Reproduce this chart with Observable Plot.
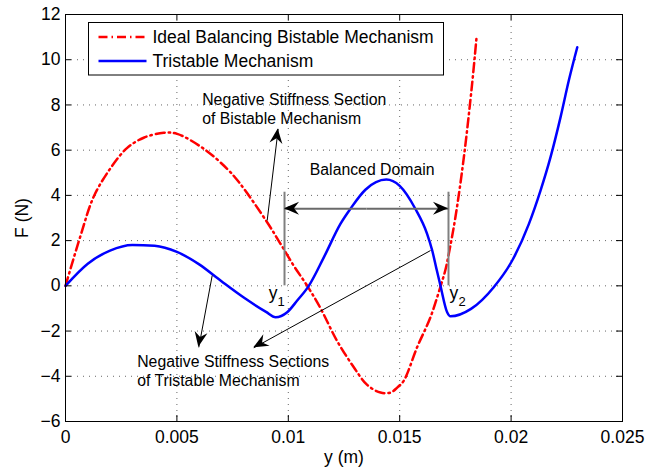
<!DOCTYPE html>
<html><head><meta charset="utf-8">
<script src="https://cdn.jsdelivr.net/npm/d3@7"></script>
<script src="https://cdn.jsdelivr.net/npm/@observablehq/plot@0.6"></script>
<style>
body{margin:0;background:#fff;}
#chart{position:relative;width:657px;height:471px;}
#chart svg{display:block;}
</style>
</head><body><div id="chart"></div>
<script>
// ---- data ----
const seriesNames = ["Ideal Balancing Bistable Mechanism", "Tristable Mechanism"];
const tristableX = [0, 0.001, 0.002, 0.003, 0.004, 0.005, 0.006, 0.007, 0.008, 0.009, 0.00943, 0.00995, 0.0104, 0.01092, 0.0116, 0.01234, 0.01279, 0.01346, 0.0144, 0.0150, 0.0157, 0.01623, 0.01646, 0.01665, 0.01683, 0.01713, 0.01728, 0.0182, 0.01922, 0.02005, 0.0208, 0.02132, 0.02177, 0.02222, 0.02259, 0.02297];
const tristableF = [0, 0.98, 1.56, 1.81, 1.77, 1.5, 0.95, 0.2, -0.52, -1.15, -1.39, -1.17, -0.65, 0, 1.27, 2.74, 3.41, 4.25, 4.7, 4.42, 3.41, 2.3, 1.56, 0.75, 0, -1.17, -1.35, -1.02, -0.06, 1.12, 2.74, 4.21, 5.69, 7.46, 9.08, 10.55];
const bistableX = [0, 0.00067, 0.00127, 0.00202, 0.00277, 0.00351, 0.00441, 0.00501, 0.00621, 0.00726, 0.00785, 0.00905, 0.00965, 0.01025, 0.01085, 0.01144, 0.01218, 0.01294, 0.01354, 0.01414, 0.01459, 0.01489, 0.01518, 0.01578, 0.01638, 0.01683, 0.01705, 0.0172, 0.0175, 0.01788, 0.01825, 0.01845];
const bistableF = [0, 2.2, 3.95, 5.2, 6.1, 6.55, 6.77, 6.72, 6.06, 5.17, 4.5, 2.81, 1.86, 0.88, 0, -0.98, -2.42, -3.6, -4.38, -4.72, -4.72, -4.5, -4.2, -2.72, -1.39, -0.03, 0.7, 1.4, 3.03, 5.69, 8.93, 11.0];
const xTicks = [0, 0.005, 0.01, 0.015, 0.02, 0.025];
const xTickLabels = ["0", "0.005", "0.01", "0.015", "0.02", "0.025"];
const yTicks = [-6, -4, -2, 0, 2, 4, 6, 8, 10, 12];
const xLabel = "y (m)";
const yLabel = "F (N)";
// annotations
const noteTexts = [
  {x: 0.006135, y: 8.2, text: "Negative Stiffness Section"},
  {x: 0.006135, y: 7.36, text: "of Bistable Mechanism"},
  {x: 0.010965, y: 5.13, text: "Balanced Domain"},
  {x: 0.003218, y: -3.38, text: "Negative Stiffness Sections"},
  {x: 0.003218, y: -4.19, text: "of Tristable Mechanism"}
];
const noteArrows = [
  {x1: 0.009053, y1: 2.89, x2: 0.009547, y2: 6.94},
  {x1: 0.006584, y1: 0.456, x2: 0.005983, y2: -2.72},
  {x1: 0.016382, y1: 1.56, x2: 0.008452, y2: -2.74}
];
const boundaryX = [0.00983, 0.01719];
const boundaryLabels = ["1", "2"];
const boundaryTop = 4.14;
const domainArrowF = 3.41;

// ---- layout ----
const W = 657, H = 471, mL = 65, mT = 14, mR = 35, mB = 50;
const innerW = W - mL - mR, innerH = H - mT - mB, tickLen = 6;

const tri = tristableX.map((x, i) => ({x, F: tristableF[i]}));
const bi = bistableX.map((x, i) => ({x, F: bistableF[i]}));
const labelMap = new Map(xTicks.map((t, i) => [t, xTickLabels[i]]));
const domainArrows = [
  {x1: (boundaryX[0] + boundaryX[1]) / 2, y1: domainArrowF, x2: boundaryX[0], y2: domainArrowF},
  {x1: (boundaryX[0] + boundaryX[1]) / 2, y1: domainArrowF, x2: boundaryX[1], y2: domainArrowF}
];
const bLabels = boundaryX.map((x, i) => ({x, sub: boundaryLabels[i]}));

const gridStyle = {stroke: "#000", strokeOpacity: 0.6, strokeDasharray: "1,5", strokeWidth: 1};
const font = "'Liberation Sans', Arial, Helvetica, sans-serif";

const plot = Plot.plot({
  width: W, height: H,
  marginLeft: mL, marginTop: mT, marginRight: mR, marginBottom: mB,
  style: {fontFamily: font, fontSize: "17.5px", background: "#fff", color: "#000"},
  x: {domain: [0, 0.025]},
  y: {domain: [-6, 12]},
  marks: [
    Plot.gridX(xTicks.slice(1, -1), gridStyle),
    Plot.gridY(yTicks.slice(1, -1), gridStyle),
    Plot.line(bi, {x: "x", y: "F", stroke: "#ff0000", strokeWidth: 2.5, strokeDasharray: "9,4,1.5,4", curve: "catmull-rom"}),
    Plot.line(tri, {x: "x", y: "F", stroke: "#0000ff", strokeWidth: 2.5, curve: "monotone-x"}),
    Plot.ruleX(boundaryX, {y1: 0, y2: boundaryTop, stroke: "#808080", strokeWidth: 2}),
    Plot.link(domainArrows, {x1: "x1", y1: "y1", x2: "x2", y2: "y2", stroke: "#6a6a6a", strokeWidth: 2}),
    Plot.link(noteArrows, {x1: "x1", y1: "y1", x2: "x2", y2: "y2", stroke: "#000", strokeWidth: 1}),
    Plot.text(noteTexts, {x: "x", y: "y", text: "text", textAnchor: "start", lineAnchor: "middle", fontSize: 15.8, fill: "#000"}),
    Plot.text(bLabels.slice(0, 1), {x: "x", y: 0, text: () => "y", textAnchor: "end", lineAnchor: "bottom", dx: -7, dy: 13, fontSize: 17.5}),
    Plot.text(bLabels.slice(0, 1), {x: "x", y: 0, text: "sub", textAnchor: "start", lineAnchor: "bottom", dx: -7, dy: 20.5, fontSize: 13}),
    Plot.text(bLabels.slice(1), {x: "x", y: 0, text: () => "y", textAnchor: "start", lineAnchor: "bottom", dx: 1, dy: 13, fontSize: 17.5}),
    Plot.text(bLabels.slice(1), {x: "x", y: 0, text: "sub", textAnchor: "start", lineAnchor: "bottom", dx: 10, dy: 20.5, fontSize: 13}),
    Plot.frame({stroke: "#000", strokeWidth: 1}),
    Plot.tickX(xTicks, {x: d => d, insetTop: innerH - tickLen, stroke: "#000"}),
    Plot.tickX(xTicks, {x: d => d, insetBottom: innerH - tickLen, stroke: "#000"}),
    Plot.tickY(yTicks, {y: d => d, insetRight: innerW - tickLen, stroke: "#000"}),
    Plot.tickY(yTicks, {y: d => d, insetLeft: innerW - tickLen, stroke: "#000"}),
    Plot.axisX({ticks: xTicks, tickSize: 0, tickPadding: 9, tickFormat: d => labelMap.get(d) ?? String(d), label: null}),
    Plot.axisY({ticks: yTicks, tickSize: 0, tickPadding: 5, label: null}),
    Plot.text([xLabel], {frameAnchor: "bottom", text: d => d, lineAnchor: "middle", dy: 35.7}),
    Plot.text([yLabel], {frameAnchor: "left", text: d => d, rotate: -90, lineAnchor: "middle", textAnchor: "middle", dx: -43.3})
  ]
});
document.getElementById("chart").appendChild(plot);

// ---- filled arrowheads (positions through the plot's own scales) ----
const sx = plot.scale("x"), sy = plot.scale("y");
const svg = d3.select(plot);
function head(a, fill) {
  const tx = sx.apply(a.x2), ty = sy.apply(a.y2), fx = sx.apply(a.x1), fy = sy.apply(a.y1);
  const dx = tx - fx, dy = ty - fy, len = Math.hypot(dx, dy);
  const ux = dx / len, uy = dy / len, px = -uy, py = ux;
  const L = 15, Wd = 6.5, B = 10;
  const pts = [[tx, ty], [tx - L * ux + Wd * px, ty - L * uy + Wd * py], [tx - B * ux, ty - B * uy], [tx - L * ux - Wd * px, ty - L * uy - Wd * py]];
  svg.append("path").attr("d", "M" + pts.map(p => p.join(",")).join("L") + "Z").attr("fill", fill).attr("stroke", "none");
}
noteArrows.forEach(a => head(a, "#000"));
domainArrows.forEach(a => head(a, "#000"));

// ---- legend (inside axes, top-left) ----
const lg = svg.append("g").attr("transform", `translate(${mL + 23.5},${mT + 8.5})`)
  .style("font-family", font).style("font-size", "17.5px");
lg.append("rect").attr("width", 355).attr("height", 52.5).attr("fill", "#fff").attr("stroke", "#000").attr("stroke-width", 1);
const legendStyles = [
  {stroke: "#ff0000", dash: "9,4,1.5,4"},
  {stroke: "#0000ff", dash: null}
];
seriesNames.forEach((name, i) => {
  const cy = 14.5 + i * 24;
  lg.append("line").attr("x1", 10).attr("x2", 58).attr("y1", cy).attr("y2", cy)
    .attr("stroke", legendStyles[i].stroke).attr("stroke-width", 2.5).attr("stroke-dasharray", legendStyles[i].dash);
  lg.append("text").attr("x", 64).attr("y", cy).attr("dy", "0.35em").attr("text-anchor", "start").attr("fill", "#000").text(name);
});
</script>
</body></html>
